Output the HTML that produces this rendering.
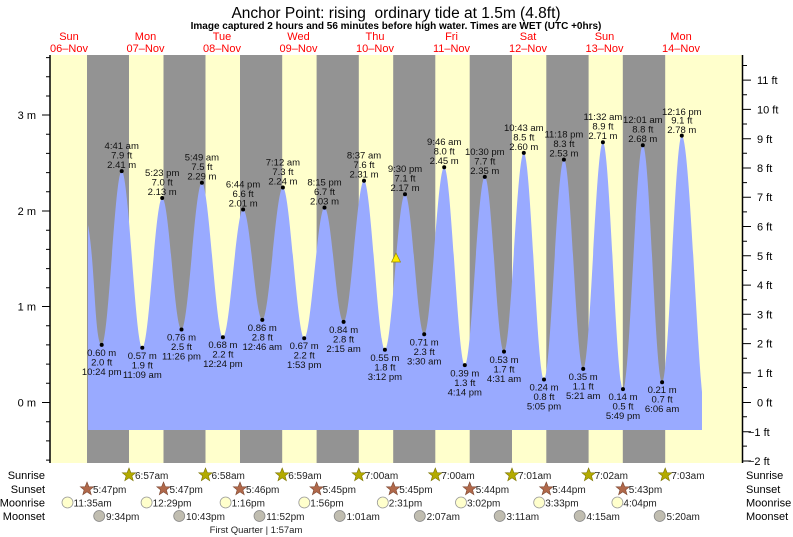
<!DOCTYPE html>
<html><head><meta charset="utf-8"><style>
body{margin:0;background:#fff}
svg{display:block;font-family:"Liberation Sans",sans-serif}
.l{font-size:9.5px;fill:#111;text-anchor:middle}
.d{font-size:11px;fill:#f00;text-anchor:middle}
.a{font-size:11px;fill:#000}
</style></head><body>
<svg width="793" height="537" viewBox="0 0 793 537">
<rect width="793" height="537" fill="#fff"/>
<text x="396" y="18" text-anchor="middle" font-size="15.5">Anchor Point: rising &#160;ordinary tide at 1.5m (4.8ft)</text>
<text x="396" y="29" text-anchor="middle" font-size="10" font-weight="bold">Image captured 2 hours and 56 minutes before high water. Times are WET (UTC +0hrs)</text>
<g class="d">
<text x="69" y="40" class="d">Sun</text><text x="69" y="52" class="d">06–Nov</text>
<text x="145.5" y="40" class="d">Mon</text><text x="145.5" y="52" class="d">07–Nov</text>
<text x="222" y="40" class="d">Tue</text><text x="222" y="52" class="d">08–Nov</text>
<text x="298.5" y="40" class="d">Wed</text><text x="298.5" y="52" class="d">09–Nov</text>
<text x="375" y="40" class="d">Thu</text><text x="375" y="52" class="d">10–Nov</text>
<text x="451.5" y="40" class="d">Fri</text><text x="451.5" y="52" class="d">11–Nov</text>
<text x="528" y="40" class="d">Sat</text><text x="528" y="52" class="d">12–Nov</text>
<text x="604.5" y="40" class="d">Sun</text><text x="604.5" y="52" class="d">13–Nov</text>
<text x="681" y="40" class="d">Mon</text><text x="681" y="52" class="d">14–Nov</text>
</g>
<rect x="50" y="55" width="693" height="408" fill="#ffffcc"/>
<g fill="#939393">
<rect x="87" y="55" width="42" height="408"/>
<rect x="163.5" y="55" width="42" height="408"/>
<rect x="240" y="55" width="42.2" height="408"/>
<rect x="316.6" y="55" width="42.2" height="408"/>
<rect x="393.2" y="55" width="42.1" height="408"/>
<rect x="469.7" y="55" width="42.3" height="408"/>
<rect x="546.3" y="55" width="42.3" height="408"/>
<rect x="622.8" y="55" width="42.4" height="408"/>
</g>
<path fill="#99aaff" d="M88,225 C95,262 94.7,344.9 101.7,344.9 S114.7,171.1 121.7,171.1 S135.3,347.8 142.3,347.8 S155.2,198 162.2,198 S174.5,329.5 181.5,329.5 S194.9,182.7 201.9,182.7 S215.9,337.2 222.9,337.2 S236.1,209.5 243.1,209.5 S255.3,319.9 262.3,319.9 S275.9,187.5 282.9,187.5 S297.2,338.2 304.2,338.2 S317.5,207.6 324.5,207.6 S336.6,321.9 343.6,321.9 S357,180.7 364,180.7 S377.9,349.7 384.9,349.7 S398,194.2 405,194.2 S417.2,334.3 424.2,334.3 S437.2,167.3 444.2,167.3 S457.8,365.1 464.8,365.1 S477.8,176.9 484.8,176.9 S497,351.6 504,351.6 S516.8,152.9 523.8,152.9 S537,379.5 544,379.5 S556.9,159.6 563.9,159.6 S576.2,368.9 583.2,368.9 S595.9,142.3 602.9,142.3 S616,389.1 623,389.1 S635.8,145.2 642.8,145.2 S655.1,382.3 662.1,382.3 S674.8,135.6 681.8,135.6 C689,135.6 696,330 702,392 L702,430 L88,430 Z"/>
<polygon points="396,253 391.5,262 400.5,262" fill="#ffee00" stroke="#998800" stroke-width="0.7"/>
<g fill="#000">
<circle cx="101.7" cy="344.9" r="2"/><circle cx="121.7" cy="171.1" r="2"/><circle cx="142.3" cy="347.8" r="2"/><circle cx="162.2" cy="198" r="2"/><circle cx="181.5" cy="329.5" r="2"/><circle cx="201.9" cy="182.7" r="2"/><circle cx="222.9" cy="337.2" r="2"/><circle cx="243.1" cy="209.5" r="2"/><circle cx="262.3" cy="319.9" r="2"/><circle cx="282.9" cy="187.5" r="2"/><circle cx="304.2" cy="338.2" r="2"/><circle cx="324.5" cy="207.6" r="2"/><circle cx="343.6" cy="321.9" r="2"/><circle cx="364" cy="180.7" r="2"/><circle cx="384.9" cy="349.7" r="2"/><circle cx="405" cy="194.2" r="2"/><circle cx="424.2" cy="334.3" r="2"/><circle cx="444.2" cy="167.3" r="2"/><circle cx="464.8" cy="365.1" r="2"/><circle cx="484.8" cy="176.9" r="2"/><circle cx="504" cy="351.6" r="2"/><circle cx="523.8" cy="152.9" r="2"/><circle cx="544" cy="379.5" r="2"/><circle cx="563.9" cy="159.6" r="2"/><circle cx="583.2" cy="368.9" r="2"/><circle cx="602.9" cy="142.3" r="2"/><circle cx="623" cy="389.1" r="2"/><circle cx="642.8" cy="145.2" r="2"/><circle cx="662.1" cy="382.3" r="2"/><circle cx="681.8" cy="135.6" r="2"/>
</g>
<g class="l">
<text x="101.7" y="356" class="l">0.60 m</text><text x="101.7" y="365.5" class="l">2.0 ft</text><text x="101.7" y="375" class="l">10:24 pm</text>
<text x="142.3" y="359" class="l">0.57 m</text><text x="142.3" y="368.5" class="l">1.9 ft</text><text x="142.3" y="378" class="l">11:09 am</text>
<text x="181.5" y="340.5" class="l">0.76 m</text><text x="181.5" y="350" class="l">2.5 ft</text><text x="181.5" y="359.5" class="l">11:26 pm</text>
<text x="222.9" y="348" class="l">0.68 m</text><text x="222.9" y="357.5" class="l">2.2 ft</text><text x="222.9" y="367" class="l">12:24 pm</text>
<text x="262.3" y="331" class="l">0.86 m</text><text x="262.3" y="340.5" class="l">2.8 ft</text><text x="262.3" y="350" class="l">12:46 am</text>
<text x="304.2" y="349" class="l">0.67 m</text><text x="304.2" y="358.5" class="l">2.2 ft</text><text x="304.2" y="368" class="l">1:53 pm</text>
<text x="343.6" y="333" class="l">0.84 m</text><text x="343.6" y="342.5" class="l">2.8 ft</text><text x="343.6" y="352" class="l">2:15 am</text>
<text x="384.9" y="361" class="l">0.55 m</text><text x="384.9" y="370.5" class="l">1.8 ft</text><text x="384.9" y="380" class="l">3:12 pm</text>
<text x="424.2" y="345.5" class="l">0.71 m</text><text x="424.2" y="355" class="l">2.3 ft</text><text x="424.2" y="364.5" class="l">3:30 am</text>
<text x="464.8" y="376.5" class="l">0.39 m</text><text x="464.8" y="386" class="l">1.3 ft</text><text x="464.8" y="395.5" class="l">4:14 pm</text>
<text x="504" y="363" class="l">0.53 m</text><text x="504" y="372.5" class="l">1.7 ft</text><text x="504" y="382" class="l">4:31 am</text>
<text x="544" y="390.5" class="l">0.24 m</text><text x="544" y="400" class="l">0.8 ft</text><text x="544" y="409.5" class="l">5:05 pm</text>
<text x="583.2" y="380" class="l">0.35 m</text><text x="583.2" y="389.5" class="l">1.1 ft</text><text x="583.2" y="399" class="l">5:21 am</text>
<text x="623" y="400" class="l">0.14 m</text><text x="623" y="409.5" class="l">0.5 ft</text><text x="623" y="419" class="l">5:49 pm</text>
<text x="662.1" y="393" class="l">0.21 m</text><text x="662.1" y="402.5" class="l">0.7 ft</text><text x="662.1" y="412" class="l">6:06 am</text>
<text x="121.7" y="149" class="l">4:41 am</text><text x="121.7" y="158.5" class="l">7.9 ft</text><text x="121.7" y="168" class="l">2.41 m</text>
<text x="162.2" y="176" class="l">5:23 pm</text><text x="162.2" y="185.5" class="l">7.0 ft</text><text x="162.2" y="195" class="l">2.13 m</text>
<text x="201.9" y="160.5" class="l">5:49 am</text><text x="201.9" y="170" class="l">7.5 ft</text><text x="201.9" y="179.5" class="l">2.29 m</text>
<text x="243.1" y="187.5" class="l">6:44 pm</text><text x="243.1" y="197" class="l">6.6 ft</text><text x="243.1" y="206.5" class="l">2.01 m</text>
<text x="282.9" y="165.5" class="l">7:12 am</text><text x="282.9" y="175" class="l">7.3 ft</text><text x="282.9" y="184.5" class="l">2.24 m</text>
<text x="324.5" y="185.5" class="l">8:15 pm</text><text x="324.5" y="195" class="l">6.7 ft</text><text x="324.5" y="204.5" class="l">2.03 m</text>
<text x="364" y="158.5" class="l">8:37 am</text><text x="364" y="168" class="l">7.6 ft</text><text x="364" y="177.5" class="l">2.31 m</text>
<text x="405" y="172" class="l">9:30 pm</text><text x="405" y="181.5" class="l">7.1 ft</text><text x="405" y="191" class="l">2.17 m</text>
<text x="444.2" y="145" class="l">9:46 am</text><text x="444.2" y="154.5" class="l">8.0 ft</text><text x="444.2" y="164" class="l">2.45 m</text>
<text x="484.8" y="155" class="l">10:30 pm</text><text x="484.8" y="164.5" class="l">7.7 ft</text><text x="484.8" y="174" class="l">2.35 m</text>
<text x="523.8" y="131" class="l">10:43 am</text><text x="523.8" y="140.5" class="l">8.5 ft</text><text x="523.8" y="150" class="l">2.60 m</text>
<text x="563.9" y="137.5" class="l">11:18 pm</text><text x="563.9" y="147" class="l">8.3 ft</text><text x="563.9" y="156.5" class="l">2.53 m</text>
<text x="602.9" y="120" class="l">11:32 am</text><text x="602.9" y="129.5" class="l">8.9 ft</text><text x="602.9" y="139" class="l">2.71 m</text>
<text x="642.8" y="123" class="l">12:01 am</text><text x="642.8" y="132.5" class="l">8.8 ft</text><text x="642.8" y="142" class="l">2.68 m</text>
<text x="681.8" y="115" class="l">12:16 pm</text><text x="681.8" y="123.5" class="l">9.1 ft</text><text x="681.8" y="133" class="l">2.78 m</text>
</g>
<g stroke="#000" stroke-width="1">
<line x1="50" y1="55" x2="50" y2="463" stroke-width="1.5"/>
<line x1="742.5" y1="55" x2="742.5" y2="463" stroke-width="1.5"/>
<path d="M42,115 H50 M42,211 H50 M42,306.5 H50 M42,402.5 H50
M46,57.6 H50 M46,76.8 H50 M46,96 H50 M46,134.2 H50 M46,153.4 H50 M46,172.6 H50 M46,191.8 H50 M46,230.2 H50 M46,249.4 H50 M46,268.6 H50 M46,287.8 H50 M46,325.7 H50 M46,344.9 H50 M46,364.1 H50 M46,383.3 H50 M46,421.7 H50 M46,440.9 H50 M46,460.1 H50"/>
<path d="M742.5,80.1 H751 M742.5,109.4 H751 M742.5,138.7 H751 M742.5,168 H751 M742.5,197.2 H751 M742.5,226.5 H751 M742.5,255.8 H751 M742.5,285.1 H751 M742.5,314.3 H751 M742.5,343.6 H751 M742.5,372.9 H751 M742.5,402.5 H751 M742.5,431.8 H751 M742.5,461 H751
M742.5,65.5 H747 M742.5,94.8 H747 M742.5,124 H747 M742.5,153.3 H747 M742.5,182.6 H747 M742.5,211.9 H747 M742.5,241.2 H747 M742.5,270.4 H747 M742.5,299.7 H747 M742.5,329 H747 M742.5,358.3 H747 M742.5,387.5 H747 M742.5,416.8 H747 M742.5,446.1 H747"/>
</g>
<g class="a" text-anchor="end" font-size="11">
<text x="36" y="119">3 m</text><text x="36" y="215">2 m</text><text x="36" y="310.5">1 m</text><text x="36" y="406.5">0 m</text>
</g>
<g class="a" font-size="11">
<text x="757" y="84">11 ft</text><text x="757" y="113.5">10 ft</text><text x="757" y="143">9 ft</text><text x="757" y="172">8 ft</text><text x="757" y="201">7 ft</text><text x="757" y="230.5">6 ft</text><text x="757" y="260">5 ft</text><text x="757" y="289">4 ft</text><text x="757" y="318.5">3 ft</text><text x="757" y="347.5">2 ft</text><text x="757" y="377">1 ft</text><text x="757" y="406.5">0 ft</text><text x="748" y="436">−1 ft</text><text x="748" y="465">−2 ft</text>
</g>
<g font-size="11" fill="#000">
<text x="45" y="479" text-anchor="end">Sunrise</text>
<text x="45" y="493" text-anchor="end">Sunset</text>
<text x="45" y="506.5" text-anchor="end">Moonrise</text>
<text x="45" y="520" text-anchor="end">Moonset</text>
<text x="746" y="479">Sunrise</text>
<text x="746" y="493">Sunset</text>
<text x="746" y="506.5">Moonrise</text>
<text x="746" y="520">Moonset</text>
</g>
<defs>
<polygon id="st" points="0,-7 1.9,-2.3 6.7,-2.2 2.9,0.9 4.2,5.7 0,2.9 -4.2,5.7 -2.9,0.9 -6.7,-2.2 -1.9,-2.3"/>
</defs>
<g fill="#b3aa00" stroke="#7a7300" stroke-width="0.6">
<use href="#st" x="129" y="475"/><use href="#st" x="205.5" y="475"/><use href="#st" x="282.2" y="475"/><use href="#st" x="358.8" y="475"/><use href="#st" x="435.3" y="475"/><use href="#st" x="512" y="475"/><use href="#st" x="588.6" y="475"/><use href="#st" x="665.2" y="475"/>
</g>
<g fill="#b0684a" stroke="#7a4530" stroke-width="0.6">
<use href="#st" x="87" y="489"/><use href="#st" x="163.5" y="489"/><use href="#st" x="240" y="489"/><use href="#st" x="316.6" y="489"/><use href="#st" x="393.2" y="489"/><use href="#st" x="469.7" y="489"/><use href="#st" x="546.3" y="489"/><use href="#st" x="622.8" y="489"/>
</g>
<g fill="#ffffcc" stroke="#999" stroke-width="0.8">
<circle cx="67.5" cy="502.5" r="5.5"/><circle cx="146.6" cy="502.5" r="5.5"/><circle cx="225.6" cy="502.5" r="5.5"/><circle cx="304.3" cy="502.5" r="5.5"/><circle cx="382.8" cy="502.5" r="5.5"/><circle cx="461" cy="502.5" r="5.5"/><circle cx="539.2" cy="502.5" r="5.5"/><circle cx="617.4" cy="502.5" r="5.5"/>
</g>
<g fill="#c0bdb0" stroke="#888" stroke-width="0.8">
<circle cx="99.2" cy="516" r="5.5"/><circle cx="179.2" cy="516" r="5.5"/><circle cx="259.5" cy="516" r="5.5"/><circle cx="339.7" cy="516" r="5.5"/><circle cx="419.8" cy="516" r="5.5"/><circle cx="499.7" cy="516" r="5.5"/><circle cx="579.7" cy="516" r="5.5"/><circle cx="659.7" cy="516" r="5.5"/>
</g>
<g font-size="10" fill="#222">
<text x="135" y="479">6:57am</text><text x="211.5" y="479">6:58am</text><text x="288.2" y="479">6:59am</text><text x="364.8" y="479">7:00am</text><text x="441.3" y="479">7:00am</text><text x="518" y="479">7:01am</text><text x="594.6" y="479">7:02am</text><text x="671.2" y="479">7:03am</text>
<text x="93" y="493">5:47pm</text><text x="169.5" y="493">5:47pm</text><text x="246" y="493">5:46pm</text><text x="322.6" y="493">5:45pm</text><text x="399.2" y="493">5:45pm</text><text x="475.7" y="493">5:44pm</text><text x="552.3" y="493">5:44pm</text><text x="628.8" y="493">5:43pm</text>
<text x="73.5" y="506.5">11:35am</text><text x="152.6" y="506.5">12:29pm</text><text x="231.6" y="506.5">1:16pm</text><text x="310.3" y="506.5">1:56pm</text><text x="388.8" y="506.5">2:31pm</text><text x="467" y="506.5">3:02pm</text><text x="545.2" y="506.5">3:33pm</text><text x="623.4" y="506.5">4:04pm</text>
<text x="106" y="520">9:34pm</text><text x="186" y="520">10:43pm</text><text x="266.3" y="520">11:52pm</text><text x="346.5" y="520">1:01am</text><text x="426.6" y="520">2:07am</text><text x="506.5" y="520">3:11am</text><text x="586.5" y="520">4:15am</text><text x="666.5" y="520">5:20am</text>
<text x="256" y="533" text-anchor="middle" font-size="9.5">First Quarter | 1:57am</text>
</g>
</svg>
</body></html>
